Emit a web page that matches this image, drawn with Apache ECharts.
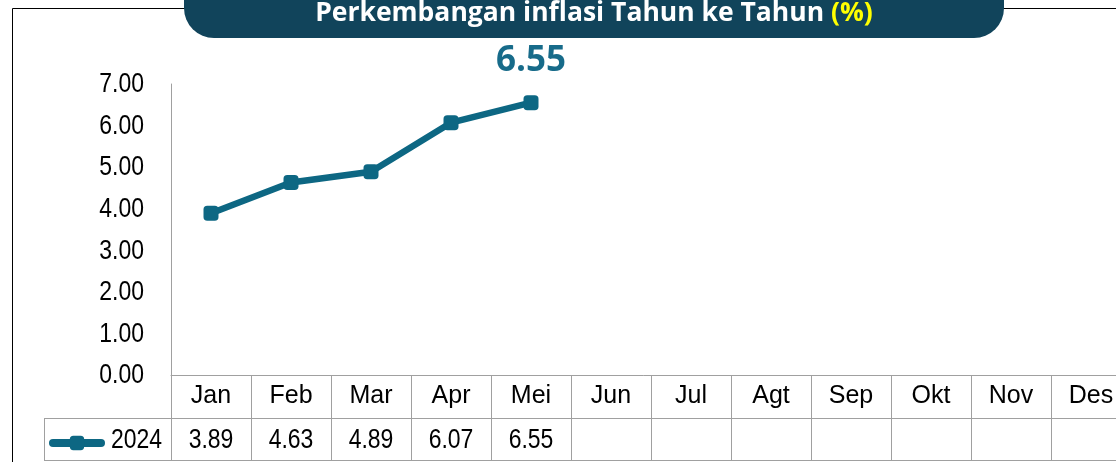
<!DOCTYPE html>
<html><head><meta charset="utf-8">
<script src="https://cdn.jsdelivr.net/npm/echarts@6/dist/echarts.min.js"></script>
<style>html,body{margin:0;padding:0;background:#fff}#c{width:1116px;height:462px}</style>
</head><body><div id="c"></div>
<script>
const months = ['Jan','Feb','Mar','Apr','Mei','Jun','Jul','Agt','Sep','Okt','Nov','Des'];
const values2024 = [3.89, 4.63, 4.89, 6.07, 6.55, null, null, null, null, null, null, null];
const seriesName = '2024';
const yTicks = [0,1,2,3,4,5,6,7];
const titleMain = 'Perkembangan inflasi Tahun ke Tahun ';
const titleUnit = '(%)';

const LINE = '#0d6783';
const GRID_COLOR = '#a0a0a0';
const FONT = '"Liberation Sans", Arial, sans-serif';
const TITLE_FONT = '"Open Sans", "Noto Sans", sans-serif';
const NARROW = 0.82;

const chart = echarts.init(document.getElementById('c'), null, {renderer:'canvas'});
const lastIdx = values2024.reduce((a, v, i) => v != null ? i : a, -1);

const staticGraphics = [
  {id: 'frame', type: 'rect', shape: {x: 12.5, y: 8.5, width: 2000, height: 1000}, style: {fill: 'none', stroke: '#000', lineWidth: 1}, z: 1},
  {id: 'rowline', type: 'line', shape: {x1: 44, y1: 418.5, x2: 1116, y2: 418.5}, style: {stroke: GRID_COLOR, lineWidth: 1}, z: 3},
  {id: 'botline', type: 'line', shape: {x1: 44, y1: 460.5, x2: 1116, y2: 460.5}, style: {stroke: GRID_COLOR, lineWidth: 1}, z: 3},
  {id: 'leftline', type: 'line', shape: {x1: 44.5, y1: 418, x2: 44.5, y2: 461}, style: {stroke: GRID_COLOR, lineWidth: 1}, z: 3},
  {id: 'banner', type: 'rect', shape: {x: 184, y: -40, width: 820, height: 78, r: [0, 0, 30, 30]}, style: {fill: '#11445b'}, z: 10},
  {id: 'title', type: 'text', x: 594, y: 13.5, z: 11, style: {
    text: '{a|' + titleMain + '}{b|' + titleUnit + '}',
    align: 'center', verticalAlign: 'middle',
    rich: {
      a: {fontSize: 26.5, fontWeight: 'bold', fontFamily: TITLE_FONT, fill: '#ffffff', color: '#ffffff'},
      b: {fontSize: 26.5, fontWeight: 'bold', fontFamily: TITLE_FONT, fill: '#ffff00', color: '#ffff00'}
    }
  }}
];

chart.setOption({
  animation: false,
  grid: {left: 171, width: 960, top: 84, height: 291, containLabel: false, outerBoundsMode: 'none'},
  legend: {
    data: [seriesName], left: 44, top: 429, itemWidth: 48, itemHeight: 18, itemGap: 0,
    formatter: () => '',
    lineStyle: {width: 8, cap: 'round'},
    textStyle: {fontSize: 1}
  },
  xAxis: {
    type: 'category', data: months, boundaryGap: true, position: 'bottom',
    axisLine: {show: true, lineStyle: {color: GRID_COLOR, width: 1}},
    axisTick: {show: true, interval: 0, length: 85, lineStyle: {color: GRID_COLOR, width: 1}},
    axisLabel: {interval: 0, margin: 9, fontSize: 25, fontFamily: FONT, color: '#000'},
    splitLine: {show: false}
  },
  yAxis: {
    type: 'value', min: yTicks[0], max: yTicks[yTicks.length-1], interval: 1,
    axisLine: {show: true, lineStyle: {color: GRID_COLOR, width: 1}},
    axisTick: {show: false}, splitLine: {show: false},
    axisLabel: {show: false}
  },
  series: [{
    name: seriesName, type: 'line',
    data: values2024.map((v, i) => i === lastIdx ? {
      value: v,
      label: {show: true, position: 'top', distance: 17, fontSize: 35, fontWeight: 'bold',
        fontFamily: TITLE_FONT, color: '#176b8a', formatter: p => p.value.toFixed(2)}
    } : v),
    symbol: 'roundRect', symbolSize: 15, showAllSymbol: true,
    itemStyle: {color: LINE},
    lineStyle: {color: LINE, width: 6.5},
    z: 5
  }],
  graphic: staticGraphics
});

const narrowText = (id, text, x, y, align) => ({
  id, type: 'text', x, y, scaleX: NARROW, z: 6,
  style: {text, fontSize: 28, fontFamily: FONT, fill: '#000', align, verticalAlign: 'middle'}
});
const extra = [];
yTicks.forEach((t, i) => {
  const y = chart.convertToPixel({yAxisIndex: 0}, t);
  extra.push(narrowText('yl' + i, t.toFixed(2), 144, y + 0.5, 'right'));
});
values2024.forEach((v, i) => {
  if (v == null) return;
  const x = chart.convertToPixel({xAxisIndex: 0}, months[i]);
  extra.push(narrowText('val' + i, v.toFixed(2), x, 440, 'center'));
});
extra.push(narrowText('legtext', seriesName, 111, 440, 'left'));
chart.setOption({graphic: staticGraphics.concat(extra)});
</script></body></html>
